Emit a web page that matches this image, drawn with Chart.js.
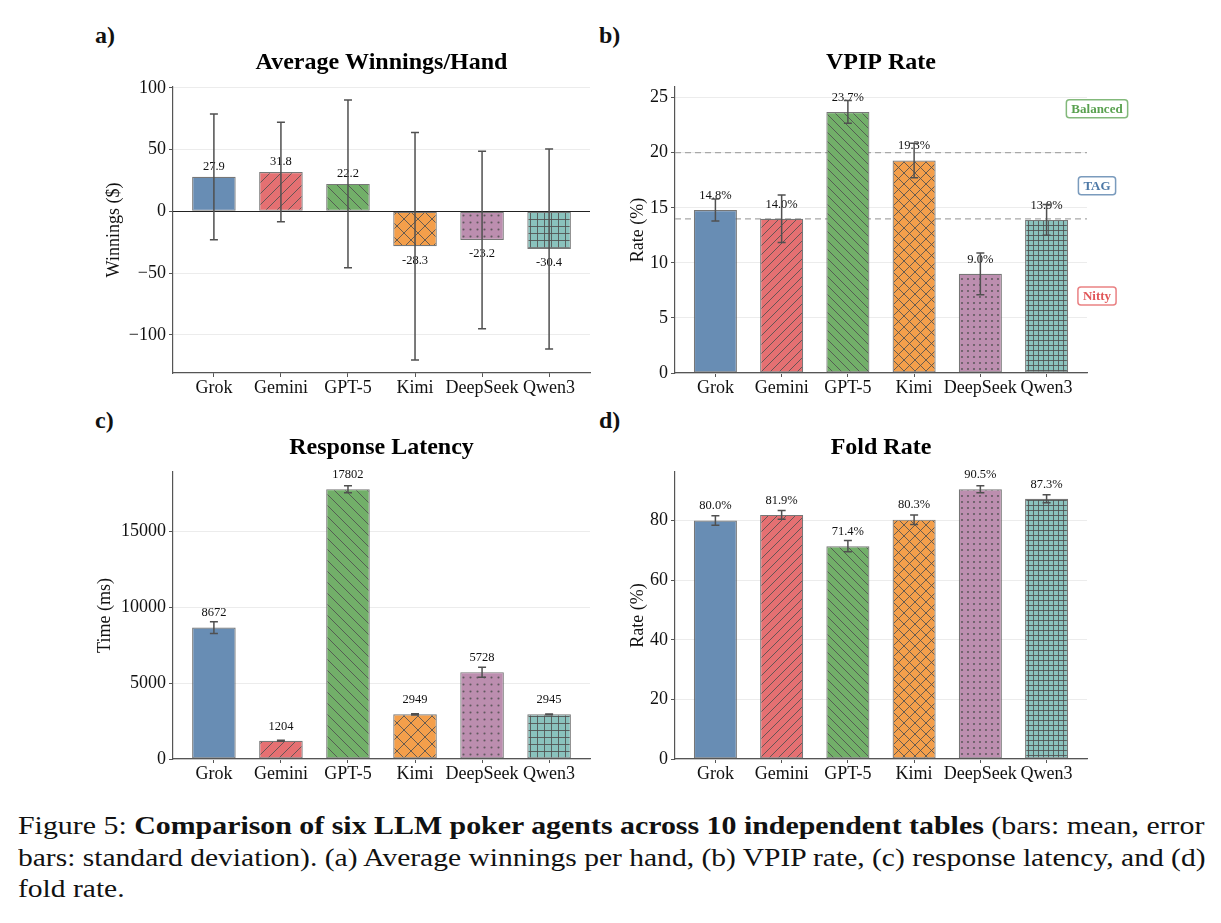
<!DOCTYPE html>
<html>
<head>
<meta charset="utf-8">
<script src="https://cdn.jsdelivr.net/npm/chart.js@4.4.0/dist/chart.umd.min.js"></script>
<style>
  body { margin: 0; background: #fff; width: 1221px; height: 923px; position: relative; overflow: hidden;
         font-family: "Liberation Serif", "Times New Roman", serif; color: #111; }
  canvas { position: absolute; }
  .tag { position: absolute; font-weight: bold; font-size: 24px; line-height: 24px; }
  .cap { position: absolute; left: 18px; font-size: 26px; line-height: 31.5px; white-space: nowrap; }
  .cap span { display: inline-block; transform-origin: 0 50%; }
</style>
</head>
<body>
<div class="tag" style="left:95px;top:23px">a)</div>
<div class="tag" style="left:599px;top:23px">b)</div>
<div class="tag" style="left:95px;top:408px">c)</div>
<div class="tag" style="left:599px;top:408px">d)</div>

<canvas id="chartA"></canvas>
<canvas id="chartB"></canvas>
<canvas id="chartC"></canvas>
<canvas id="chartD"></canvas>

<div class="cap" style="top:810px"><span id="cap1">Figure 5: <b>Comparison of six LLM poker agents across 10 independent tables</b> (bars: mean, error</span></div>
<div class="cap" style="top:841.5px"><span id="cap2">bars: standard deviation). (a) Average winnings per hand, (b) VPIP rate, (c) response latency, and (d)</span></div>
<div class="cap" style="top:873px"><span id="cap3">fold rate.</span></div>

<script>
// --- data ---
const models = ['Grok', 'Gemini', 'GPT-5', 'Kimi', 'DeepSeek', 'Qwen3'];

const winMean = [27.9, 31.8, 22.2, -28.3, -23.2, -30.4];
const winStd  = [50.9, 40.2, 67.9, 92.0, 71.8, 80.9];
const winTicks = [-100, -50, 0, 50, 100];

const vpipMean = [14.8, 14.0, 23.7, 19.3, 9.0, 13.9];
const vpipStd  = [1.0, 2.15, 1.03, 1.57, 1.89, 1.4];
const vpipTicks = [0, 5, 10, 15, 20, 25];
const zoneNames = ['Balanced', 'TAG', 'Nitty'];
const zoneMid = [24, 17, 7];
const zoneLines = [20, 14];

const latMean = [8672, 1204, 17802, 2949, 5728, 2945];
const latStd  = [390, 35, 230, 40, 330, 25];
const latTicks = [0, 5000, 10000, 15000];

const foldMean = [80.0, 81.9, 71.4, 80.3, 90.5, 87.3];
const foldStd  = [1.6, 1.5, 1.9, 1.6, 1.2, 1.35];
const foldTicks = [0, 20, 40, 60, 80];

// --- styling ---
const SERIF = '"Liberation Serif", "Times New Roman", serif';
const barColors = ['rgba(78,121,167,0.85)', 'rgba(225,87,89,0.85)', 'rgba(89,161,79,0.85)',
                   'rgba(242,142,43,0.85)', 'rgba(176,122,161,0.85)', 'rgba(118,183,178,0.85)'];
const hatches = ['', '/', '\\', 'x', '.', '+'];
const zoneColors = ['#59a14f', '#4e79a7', '#e15759'];
const zoneBorders = ['rgba(89,161,79,0.75)', 'rgba(78,121,167,0.75)', 'rgba(225,87,89,0.75)'];

function hatchTile(fill, kind, k) {
    const base = {'/': 9, '\\': 9, 'x': 11, '.': 5.8, '+': 5.4}[kind] || 8;
    const s = Math.round(base * k);
    const c = document.createElement('canvas');
    c.width = s; c.height = s;
    const g = c.getContext('2d');
    g.fillStyle = '#fff'; g.fillRect(0, 0, s, s);
    g.fillStyle = fill; g.fillRect(0, 0, s, s);
    g.strokeStyle = 'rgba(80,80,80,0.85)';
    g.lineWidth = 1;
    const slash = () => { g.beginPath(); [-s, 0, s].forEach(o => { g.moveTo(o, s); g.lineTo(o + s, 0); }); g.stroke(); };
    const back = () => { g.beginPath(); [-s, 0, s].forEach(o => { g.moveTo(o, 0); g.lineTo(o + s, s); }); g.stroke(); };
    if (kind === '/') slash();
    if (kind === '\\') back();
    if (kind === 'x') { slash(); back(); }
    if (kind === '.') {
        g.fillStyle = 'rgba(80,80,80,0.85)';
        g.beginPath(); g.arc(s / 2, s / 2, 1.05, 0, 2 * Math.PI); g.fill();
    }
    if (kind === '+') {
        g.beginPath(); g.moveTo(0, 0.5); g.lineTo(s, 0.5); g.moveTo(0.5, 0); g.lineTo(0.5, s); g.stroke();
    }
    return g.createPattern(c, 'repeat');
}

// matplotlib-like autoscale: bars stick to 0, 5% margin
function axisRange(mean, std) {
    const lo = Math.min(0, ...mean.map((m, i) => m - std[i]));
    const hi = Math.max(0, ...mean.map((m, i) => m + std[i]));
    const pad = (hi - lo) * 0.05;
    return { min: lo < 0 ? lo - pad : 0, max: hi + pad };
}

function extras(spec) {
    return {
        id: 'extras',
        beforeDatasetsDraw(chart) {
            const { ctx, chartArea: a, scales: { y } } = chart;
            (spec.refLines || []).forEach(v => {
                const py = y.getPixelForValue(v);
                ctx.save();
                ctx.strokeStyle = '#a8a8a8'; ctx.lineWidth = 1.3; ctx.setLineDash([6, 4]);
                ctx.beginPath(); ctx.moveTo(a.left, py); ctx.lineTo(a.right, py); ctx.stroke();
                ctx.restore();
            });
        },
        afterDatasetsDraw(chart) {
            const { ctx, chartArea: a, scales: { y } } = chart;
            ctx.save();
            if (spec.zeroLine) {
                const py = Math.round(y.getPixelForValue(0)) + 0.5;
                ctx.strokeStyle = '#222'; ctx.lineWidth = 1.1;
                ctx.beginPath(); ctx.moveTo(a.left, py); ctx.lineTo(a.right, py); ctx.stroke();
            }
            const bars = chart.getDatasetMeta(0).data;
            bars.forEach((bar, i) => {
                const v = spec.mean[i], s = spec.std[i];
                const py = y.getPixelForValue(v);
                ctx.fillStyle = '#111';
                ctx.font = '12.5px ' + SERIF;
                ctx.textAlign = 'center'; ctx.textBaseline = 'middle';
                ctx.fillText(spec.fmt(v), bar.x, v < 0 ? py + spec.below : py - spec.above);

                const t = y.getPixelForValue(v + s), b = y.getPixelForValue(v - s);
                ctx.strokeStyle = '#505050'; ctx.lineWidth = 1.5;
                ctx.beginPath();
                ctx.moveTo(bar.x, t); ctx.lineTo(bar.x, b);
                ctx.moveTo(bar.x - 4, t); ctx.lineTo(bar.x + 4, t);
                ctx.moveTo(bar.x - 4, b); ctx.lineTo(bar.x + 4, b);
                ctx.stroke();
            });

            // panel title, centred on the plot area
            ctx.fillStyle = '#000';
            ctx.font = 'bold 24px ' + SERIF;
            ctx.textAlign = 'center'; ctx.textBaseline = 'middle';
            ctx.fillText(spec.title, (a.left + a.right) / 2, a.top - 24);

            // style zone labels (VPIP only)
            (spec.zones || []).forEach((name, i) => {
                const cy = y.getPixelForValue(zoneMid[i]);
                const cx = a.right + 10;
                ctx.font = 'bold 13px ' + SERIF;
                const w = ctx.measureText(name).width + 10, h = 18;
                ctx.beginPath();
                ctx.roundRect(cx - w / 2, cy - h / 2, w, h, 3);
                ctx.fillStyle = '#fff'; ctx.fill();
                ctx.strokeStyle = zoneBorders[i]; ctx.lineWidth = 1.5; ctx.stroke();
                ctx.fillStyle = zoneColors[i];
                ctx.fillText(name, cx, cy + 0.5);
            });
            ctx.restore();
        }
    };
}

function makePanel(id, box, spec) {
    const cv = document.getElementById(id);
    const left = box.l - 112, top = box.t - 57;
    cv.width = box.r - left + 50;
    cv.height = box.b - top + 37;
    cv.style.left = left + 'px';
    cv.style.top = top + 'px';
    const range = axisRange(spec.mean, spec.std);
    const tickFont = { family: SERIF, size: 18 };

    new Chart(cv, {
        type: 'bar',
        data: {
            datasets: [{
                data: spec.mean.map((v, i) => ({ x: i, y: v })),
                backgroundColor: models.map((m, i) => hatchTile(barColors[i], hatches[i], spec.hatchScale)),
                borderColor: 'rgba(95,95,95,0.85)',
                borderWidth: 1.2,
                borderSkipped: false,
                barPercentage: 0.65,
                categoryPercentage: 1
            }]
        },
        options: {
            responsive: false,
            animation: false,
            devicePixelRatio: 1,
            layout: { padding: { left: 0, top: 57, right: 50, bottom: 0 } },
            plugins: { legend: { display: false }, tooltip: { enabled: false } },
            scales: {
                x: {
                    type: 'linear', min: -0.61, max: 5.61, offset: false,
                    afterBuildTicks: s => { s.ticks = models.map((_, i) => ({ value: i })); },
                    afterFit: s => { s.height = 37; },
                    grid: { drawOnChartArea: false, tickLength: 4, tickColor: '#555', offset: false },
                    border: { color: '#555', width: 1.2 },
                    ticks: { padding: 0, color: '#111', font: tickFont, maxRotation: 0, autoSkip: false,
                             callback: v => models[v] }
                },
                y: {
                    min: range.min, max: range.max,
                    afterBuildTicks: s => { s.ticks = spec.ticks.map(v => ({ value: v })); },
                    afterFit: s => { s.width = 112; },
                    grid: { color: '#ececec', tickLength: 4, tickColor: '#555' },
                    border: { color: '#555', width: 1.2 },
                    ticks: { padding: 3, color: '#111', font: tickFont,
                             callback: v => String(v).replace('-', '\u2212') },
                    title: { display: true, text: spec.yTitle, color: '#111', font: tickFont,
                             padding: { top: spec.titlePad, bottom: 0 } }
                }
            }
        },
        plugins: [extras(spec)]
    });
}

makePanel('chartA', { l: 173, t: 87, r: 590, b: 373 }, {
    title: 'Average Winnings/Hand', yTitle: 'Winnings ($)', titlePad: 42,
    mean: winMean, std: winStd, ticks: winTicks, hatchScale: 1.25,
    fmt: v => v.toFixed(1), above: 10, below: 14, zeroLine: true
});
makePanel('chartB', { l: 675, t: 87, r: 1087, b: 373 }, {
    title: 'VPIP Rate', yTitle: 'Rate (%)', titlePad: 64,
    mean: vpipMean, std: vpipStd, ticks: vpipTicks, hatchScale: 1,
    fmt: v => v.toFixed(1) + '%', above: 14.5, below: 14,
    refLines: zoneLines, zones: zoneNames
});
makePanel('chartC', { l: 173, t: 472, r: 590, b: 759 }, {
    title: 'Response Latency', yTitle: 'Time (ms)', titlePad: 33,
    mean: latMean, std: latStd, ticks: latTicks, hatchScale: 1.25,
    fmt: v => String(Math.round(v)), above: 14.5, below: 14
});
makePanel('chartD', { l: 675, t: 472, r: 1087, b: 759 }, {
    title: 'Fold Rate', yTitle: 'Rate (%)', titlePad: 64,
    mean: foldMean, std: foldStd, ticks: foldTicks, hatchScale: 1,
    fmt: v => v.toFixed(1) + '%', above: 14.5, below: 14
});

// caption: stretch each full line to the text block width (1187px)
const cap1 = document.getElementById('cap1'), cap2 = document.getElementById('cap2'), cap3 = document.getElementById('cap3');
const k1 = 1187 / cap1.offsetWidth, k2 = 1187 / cap2.offsetWidth;
cap1.style.transform = `scaleX(${k1})`;
cap2.style.transform = `scaleX(${k2})`;
cap3.style.transform = `scaleX(${k2})`;
</script>
</body>
</html>
